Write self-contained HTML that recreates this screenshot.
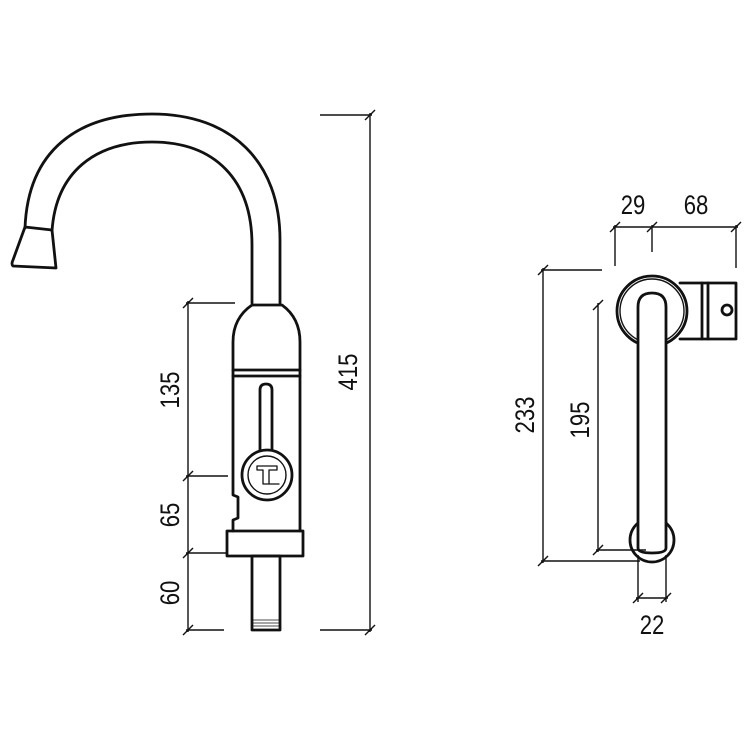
<!DOCTYPE html>
<html><head><meta charset="utf-8"><style>
html,body{margin:0;padding:0;background:#fff;}
svg{display:block;}
text{font-family:"Liberation Sans",sans-serif;font-size:27px;fill:#111;}
</style></head><body>
<svg width="750" height="750" viewBox="0 0 750 750" xmlns="http://www.w3.org/2000/svg">
<g fill="none" stroke="#111" stroke-width="2.8" stroke-linejoin="round" stroke-linecap="round">
  <path d="M25,228 C28,150 78,114 152,114 C232,114 280,162 280,240 L280,303"/>
  <path d="M52,231 C56,172 95,142 152,142 C215,142 252,180 252,245 L252,303"/>
  <path d="M25,227 L52,230 L56,268 L13,266 Q11,264 13,260 Z"/>
  <path d="M252,305 L282,305 Q300,318 300,342 L300,531"/>
  <path d="M252,305 Q233,318 233,342 L233,495 L238,497 L238,518 L233,520 L233,531"/>
  <line x1="233" y1="370" x2="300" y2="370"/>
  <line x1="233" y1="376" x2="300" y2="376"/>
  <path d="M260,450 L260,390 Q260,384 266,384 Q272,384 272,390 L272,450"/>
  <circle cx="267" cy="475" r="25" fill="#fff"/>
  <circle cx="267" cy="475" r="19" stroke-width="1.4"/>
  <path d="M257,466 L277,466 L277,470 L269,470 L269,484 L279,484 M257,466 L257,470 L263,470 L263,484 L275,484" stroke-width="1.3"/>
  <rect x="227" y="531" width="76" height="25"/>
  <rect x="252" y="556" width="28" height="74"/>
  <g stroke-width="0.8"><line x1="253" y1="620" x2="279" y2="620"/><line x1="253" y1="623" x2="279" y2="623"/><line x1="253" y1="626" x2="279" y2="626"/></g>
  <circle cx="652" cy="311" r="35"/>
  <circle cx="652" cy="311" r="32" stroke-width="1.4"/>
  <path d="M680,283 L736,283 L736,339 L680,339"/>
  <line x1="702" y1="283" x2="702" y2="339"/>
  <line x1="708" y1="283" x2="708" y2="339"/>
  <circle cx="727" cy="310" r="5"/>
  <circle cx="652" cy="540" r="22"/>
  <path d="M638,548 L638,307 Q638,293 652,293 Q666,293 666,307 L666,548 Q666,553 652,553 Q638,553 638,548 Z" fill="#fff"/>
</g>
<g fill="none" stroke="#111" stroke-width="1.4">
  <line x1="370" y1="113" x2="370" y2="632"/>
  <line x1="320" y1="115" x2="372" y2="115"/>
  <line x1="320" y1="630" x2="372" y2="630"/>
  <line x1="365" y1="120" x2="375" y2="110"/><line x1="365" y1="635" x2="375" y2="625"/>
  <line x1="188" y1="301" x2="188" y2="632"/>
  <line x1="186" y1="303" x2="235" y2="303"/>
  <line x1="186" y1="476" x2="228" y2="476"/>
  <line x1="186" y1="553" x2="226" y2="553"/>
  <line x1="186" y1="630" x2="224" y2="630"/>
  <line x1="183" y1="308" x2="193" y2="298"/><line x1="183" y1="481" x2="193" y2="471"/>
  <line x1="183" y1="558" x2="193" y2="548"/><line x1="183" y1="635" x2="193" y2="625"/>
  <line x1="613" y1="227" x2="738" y2="227"/>
  <line x1="615" y1="225" x2="615" y2="266"/>
  <line x1="652" y1="225" x2="652" y2="252"/>
  <line x1="736" y1="225" x2="736" y2="268"/>
  <line x1="610" y1="232" x2="620" y2="222"/><line x1="647" y1="232" x2="657" y2="222"/><line x1="731" y1="232" x2="741" y2="222"/>
  <line x1="543" y1="268" x2="543" y2="563"/>
  <line x1="541" y1="270" x2="602" y2="270"/>
  <line x1="541" y1="561" x2="640" y2="561"/>
  <line x1="538" y1="275" x2="548" y2="265"/><line x1="538" y1="566" x2="548" y2="556"/>
  <line x1="598" y1="303" x2="598" y2="552"/>
  <line x1="596" y1="550" x2="646" y2="550"/>
  <line x1="593" y1="310" x2="603" y2="300"/><line x1="593" y1="555" x2="603" y2="545"/>
  <line x1="636" y1="598" x2="668" y2="598"/>
  <line x1="638" y1="555" x2="638" y2="602"/>
  <line x1="666" y1="555" x2="666" y2="602"/>
  <line x1="633" y1="603" x2="643" y2="593"/><line x1="661" y1="603" x2="671" y2="593"/>
</g>
<text transform="translate(179,390) rotate(-90) scale(0.82,1)" text-anchor="middle">135</text>
<text transform="translate(179,515) rotate(-90) scale(0.82,1)" text-anchor="middle">65</text>
<text transform="translate(179,593) rotate(-90) scale(0.82,1)" text-anchor="middle">60</text>
<text transform="translate(357,372) rotate(-90) scale(0.82,1)" text-anchor="middle">415</text>
<text transform="translate(534,415) rotate(-90) scale(0.82,1)" text-anchor="middle">233</text>
<text transform="translate(589,420) rotate(-90) scale(0.82,1)" text-anchor="middle">195</text>
<text transform="translate(633,214) scale(0.82,1)" text-anchor="middle">29</text>
<text transform="translate(696,214) scale(0.82,1)" text-anchor="middle">68</text>
<text transform="translate(652,634) scale(0.82,1)" text-anchor="middle">22</text>
</svg>
</body></html>
